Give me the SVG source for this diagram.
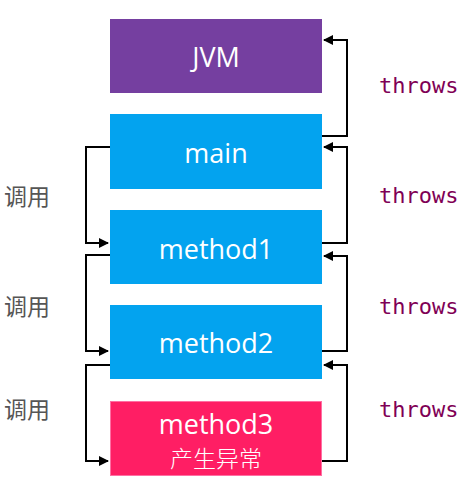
<svg xmlns="http://www.w3.org/2000/svg" width="469" height="491" viewBox="0 0 469 491">
<style>
.box text{font-family:"Open Sans","Noto Sans CJK SC",sans-serif;fill:#fff;text-anchor:middle}
.lbl{font-family:"Open Sans",sans-serif;font-size:27px}
.cjk{font-family:"Noto Sans CJK SC",sans-serif;font-size:23px;font-weight:300}
.thr{font-family:"DejaVu Sans Mono","Liberation Mono",monospace;font-size:22px;fill:#7f0055}
.call{font-family:"Noto Sans CJK SC",sans-serif;font-size:23px;fill:#555}
.conn path{fill:none;stroke:#000;stroke-width:2;marker-end:url(#ah)}
</style>
<defs>
<marker id="ah" viewBox="0 0 10 10" refX="9" refY="5" markerWidth="5" markerHeight="5" orient="auto" markerUnits="strokeWidth">
<path d="M0,0 L10,5 L0,10 z" fill="#000"/>
</marker>
</defs>
<rect width="469" height="491" fill="#fff"/>
<g id="jvm" class="box"><rect x="110" y="19" width="212" height="74" fill="#753fa0"/><text class="lbl" x="216" y="67">JVM</text></g>
<g id="main" class="box"><rect x="110" y="114" width="212" height="75" fill="#03a3ef"/><text class="lbl" x="216" y="163">main</text></g>
<g id="method1" class="box"><rect x="110" y="210" width="212" height="74" fill="#03a3ef"/><text class="lbl" x="216" y="259">method1</text></g>
<g id="method2" class="box"><rect x="110" y="305" width="212" height="74" fill="#03a3ef"/><text class="lbl" x="216" y="353">method2</text></g>
<g id="method3" class="box"><rect x="110.5" y="401.5" width="211" height="74" fill="#ff1e64" stroke="#ff6fa3" stroke-width="1"/><text class="lbl" x="216" y="434">method3</text><text class="cjk" x="216" y="467">产生异常</text></g>
<g id="connectors" class="conn">
<path d="M322,136 H347 V40 H324"/>
<path d="M322,243 H347 V147 H324"/>
<path d="M322,351 H347 V256 H324"/>
<path d="M322,461 H347 V365 H324"/>
<path d="M110,147 H86 V243 H108"/>
<path d="M110,255 H86 V351 H108"/>
<path d="M110,365 H86 V461 H108"/>
</g>
<g id="labels">
<text class="thr" x="379" y="93">throws</text>
<text class="thr" x="379" y="203">throws</text>
<text class="thr" x="379" y="314">throws</text>
<text class="thr" x="379" y="417">throws</text>
<text class="call" x="4" y="205">调用</text>
<text class="call" x="4" y="315">调用</text>
<text class="call" x="4" y="418">调用</text>
</g>
</svg>
